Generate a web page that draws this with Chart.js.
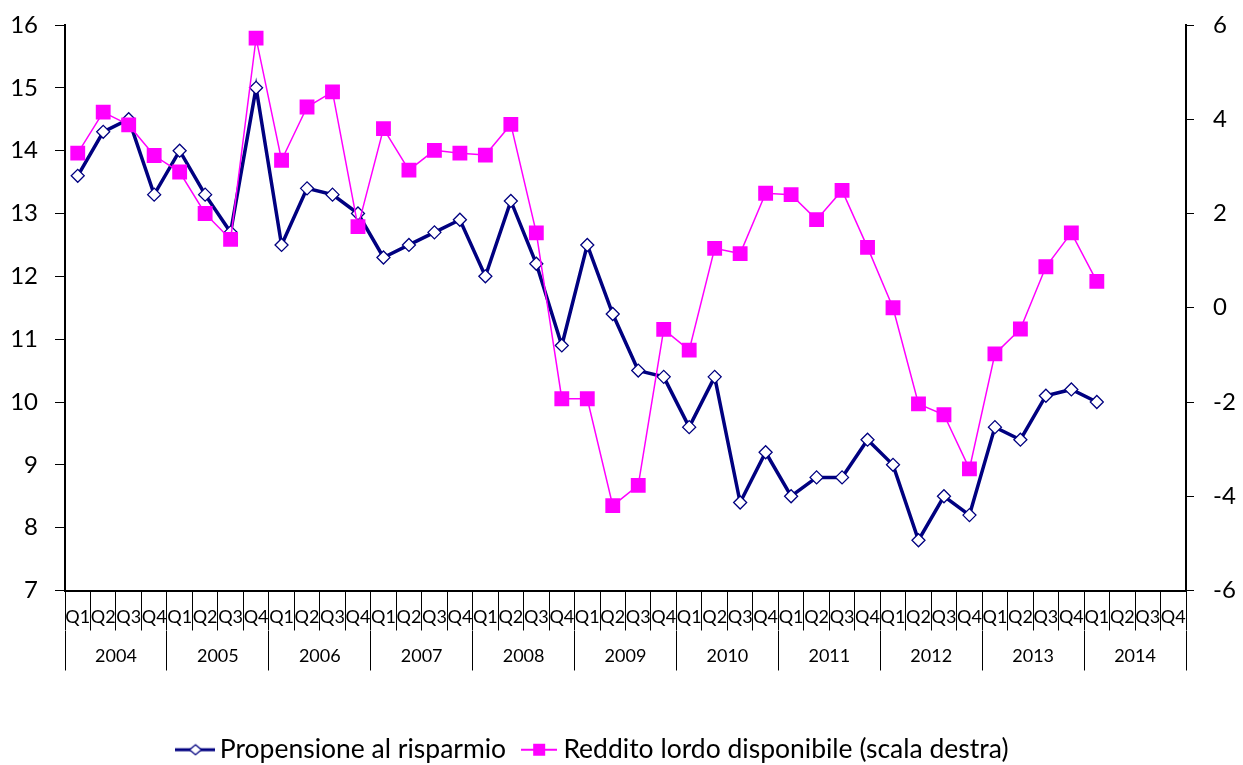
<!DOCTYPE html>
<html>
<head>
<meta charset="utf-8">
<script src="https://cdn.jsdelivr.net/npm/chart.js@4.4.1/dist/chart.umd.min.js"></script>
<style>
    html, body { margin: 0; padding: 0; background: #fff; }
</style>
</head>
<body>
<canvas id="chart" width="1243" height="765"></canvas>
<script>
const years = ['2004', '2005', '2006', '2007', '2008', '2009', '2010', '2011', '2012', '2013', '2014'];
const quarterNames = ['Q1', 'Q2', 'Q3', 'Q4'];

// Propensione al risparmio (scala sinistra), 2004Q1 - 2014Q1
const savingRate = [
    13.6, 14.3, 14.5, 13.3,
    14.0, 13.3, 12.7, 15.0,
    12.5, 13.4, 13.3, 13.0,
    12.3, 12.5, 12.7, 12.9,
    12.0, 13.2, 12.2, 10.9,
    12.5, 11.4, 10.5, 10.4,
    9.6, 10.4, 8.4, 9.2,
    8.5, 8.8, 8.8, 9.4,
    9.0, 7.8, 8.5, 8.2,
    9.6, 9.4, 10.1, 10.2,
    10.0
];

// Reddito lordo disponibile (scala destra)
const disposableIncome = [
    3.28, 4.15, 3.88, 3.23,
    2.88, 2.0, 1.45, 5.72,
    3.13, 4.26, 4.58, 1.72,
    3.8, 2.92, 3.34, 3.28,
    3.24, 3.89, 1.59, -1.93,
    -1.93, -4.2, -3.77, -0.46,
    -0.9, 1.26, 1.15, 2.43,
    2.4, 1.87, 2.49, 1.28,
    0.0, -2.04, -2.27, -3.42,
    -0.98, -0.45, 0.87, 1.59,
    0.56
];

const leftTicks = { min: 7, max: 16, step: 1 };
const rightTicks = { min: -6, max: 6, step: 2 };

const labels = [];
years.forEach(() => quarterNames.forEach(q => labels.push(q)));

const NAVY = '#000080';
const MAGENTA = '#ff00ff';
const FONT = 'Lato, "DejaVu Sans", sans-serif';

// little line+marker pictures for the legend
const makeIcon = (w, draw) => {
    const c = document.createElement('canvas');
    c.width = w;
    c.height = 18;
    draw(c.getContext('2d'), w, 18);
    return c;
};

const navyIcon = makeIcon(40, (ctx, w, h) => {
    ctx.strokeStyle = NAVY;
    ctx.lineWidth = 3;
    ctx.beginPath();
    ctx.moveTo(0, h / 2);
    ctx.lineTo(w, h / 2);
    ctx.stroke();
    ctx.beginPath();
    ctx.moveTo(w / 2, h / 2 - 5);
    ctx.lineTo(w / 2 + 6, h / 2);
    ctx.lineTo(w / 2, h / 2 + 5);
    ctx.lineTo(w / 2 - 6, h / 2);
    ctx.closePath();
    ctx.fillStyle = '#fff';
    ctx.fill();
    ctx.lineWidth = 1.3;
    ctx.stroke();
});

const pinkIcon = makeIcon(36, (ctx, w, h) => {
    ctx.strokeStyle = MAGENTA;
    ctx.lineWidth = 2;
    ctx.beginPath();
    ctx.moveTo(0, h / 2);
    ctx.lineTo(w, h / 2);
    ctx.stroke();
    ctx.fillStyle = MAGENTA;
    ctx.fillRect(w / 2 - 6, h / 2 - 6, 12, 12);
});

const icons = [navyIcon, pinkIcon];

// keep the label padding from pushing the plot area down
const fixWidth = (w) => (scale) => {
    scale.width = w;
    scale.paddingTop = 0;
    scale.paddingBottom = 0;
};

// the original legend sits a bit left of centre
const legendShift = {
    id: 'legendShift',
    afterLayout(chart) {
        chart.legend.left -= 25;
        chart.legend.right -= 25;
    }
};

new Chart(document.getElementById('chart').getContext('2d'), {
    type: 'line',
    data: {
        labels: labels,
        datasets: [{
            label: 'Propensione al risparmio',
            data: savingRate,
            xAxisID: 'x',
            yAxisID: 'y',
            borderColor: NAVY,
            borderWidth: 3.5,
            pointStyle: 'rectRot',
            pointRadius: 6.5,
            pointBackgroundColor: '#fff',
            pointBorderColor: NAVY,
            pointBorderWidth: 1.3,
            tension: 0,
            order: 1
        }, {
            label: 'Reddito lordo disponibile (scala destra)',
            data: disposableIncome,
            xAxisID: 'x',
            yAxisID: 'y2',
            borderColor: MAGENTA,
            borderWidth: 1.5,
            pointStyle: 'rect',
            pointRadius: 10.5,
            pointBackgroundColor: MAGENTA,
            pointBorderColor: MAGENTA,
            pointBorderWidth: 0,
            tension: 0,
            order: 0
        }]
    },
    plugins: [legendShift],
    options: {
        responsive: false,
        animation: false,
        devicePixelRatio: 1,
        layout: {
            autoPadding: false,
            padding: { top: 25, left: 0, right: 0, bottom: -8 }
        },
        scales: {
            x: {
                type: 'category',
                position: 'bottom',
                offset: true,
                grid: {
                    offset: true,
                    drawOnChartArea: false,
                    color: '#000',
                    tickLength: 40
                },
                border: { color: '#000', width: 2 },
                ticks: {
                    color: '#000',
                    font: { family: FONT, size: 18 },
                    padding: -24,
                    maxRotation: 0,
                    autoSkip: false
                },
                afterFit: (scale) => { scale.height = 40; }
            },
            x2: {
                type: 'category',
                labels: years,
                position: 'bottom',
                offset: true,
                grid: {
                    offset: true,
                    drawOnChartArea: false,
                    color: '#000',
                    tickLength: 40
                },
                border: { display: false },
                ticks: {
                    color: '#000',
                    font: { family: FONT, size: 18 },
                    padding: -25,
                    maxRotation: 0,
                    autoSkip: false
                },
                afterFit: (scale) => { scale.height = 84; }
            },
            y: {
                position: 'left',
                min: leftTicks.min,
                max: leftTicks.max,
                grid: {
                    drawOnChartArea: false,
                    color: '#000',
                    tickLength: 10
                },
                border: { color: '#000', width: 2 },
                ticks: {
                    stepSize: leftTicks.step,
                    color: '#000',
                    font: { family: FONT, size: 24 },
                    padding: 17
                },
                afterFit: fixWidth(65)
            },
            y2: {
                position: 'right',
                min: rightTicks.min,
                max: rightTicks.max,
                grid: {
                    drawOnChartArea: false,
                    color: '#000',
                    tickLength: 8
                },
                border: { color: '#000', width: 2 },
                ticks: {
                    stepSize: rightTicks.step,
                    color: '#000',
                    font: { family: FONT, size: 24 },
                    padding: 19
                },
                afterFit: fixWidth(57)
            }
        },
        plugins: {
            tooltip: { enabled: false },
            legend: {
                position: 'bottom',
                labels: {
                    usePointStyle: true,
                    pointStyleWidth: 22,
                    color: '#000',
                    font: { family: FONT, size: 26.5 },
                    padding: 22,
                    generateLabels: (chart) => chart.data.datasets.map((ds, i) => ({
                        text: ds.label,
                        pointStyle: icons[i],
                        datasetIndex: i,
                        hidden: false,
                        fontColor: '#000',
                        lineWidth: 0,
                        strokeStyle: 'transparent',
                        fillStyle: 'transparent'
                    }))
                }
            }
        }
    }
});
</script>
</body>
</html>
